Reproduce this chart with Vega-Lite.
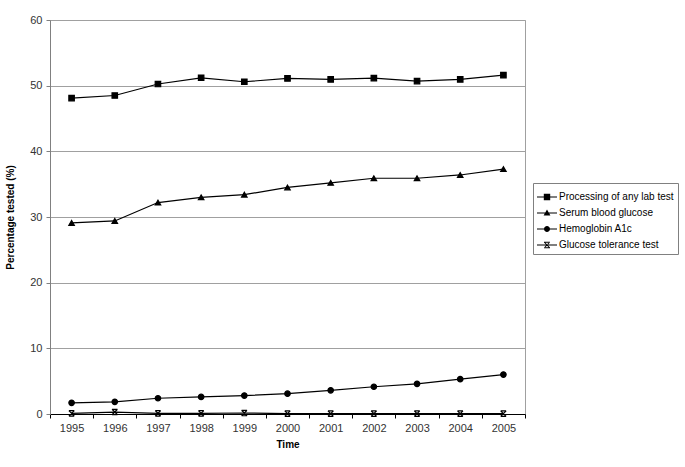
{
  "$schema": "https://vega.github.io/schema/vega-lite/v6.json",
  "autosize": {"type": "none"},
  "padding": {"left": 50, "top": 20, "right": 160, "bottom": 53},
  "width": 475,
  "height": 394,
  "background": "white",
  "config": {
    "font": "Liberation Sans",
    "view": {"stroke": "#a0a0a0", "strokeWidth": 1},
    "axis": {"labelFont": "Liberation Sans", "titleFont": "Liberation Sans", "labelColor": "#333333", "titleColor": "#000000", "labelFontSize": 11, "titleFontSize": 10, "titleFontWeight": "bold"}
  },
  "data": {"values": [
    {"year": "1995", "series": "Processing of any lab test", "value": 48.1},
    {"year": "1996", "series": "Processing of any lab test", "value": 48.5},
    {"year": "1997", "series": "Processing of any lab test", "value": 50.25},
    {"year": "1998", "series": "Processing of any lab test", "value": 51.2},
    {"year": "1999", "series": "Processing of any lab test", "value": 50.6},
    {"year": "2000", "series": "Processing of any lab test", "value": 51.1},
    {"year": "2001", "series": "Processing of any lab test", "value": 50.95},
    {"year": "2002", "series": "Processing of any lab test", "value": 51.15},
    {"year": "2003", "series": "Processing of any lab test", "value": 50.7},
    {"year": "2004", "series": "Processing of any lab test", "value": 50.95},
    {"year": "2005", "series": "Processing of any lab test", "value": 51.6},
    {"year": "1995", "series": "Serum blood glucose", "value": 29.1},
    {"year": "1996", "series": "Serum blood glucose", "value": 29.4},
    {"year": "1997", "series": "Serum blood glucose", "value": 32.2},
    {"year": "1998", "series": "Serum blood glucose", "value": 33.0},
    {"year": "1999", "series": "Serum blood glucose", "value": 33.4},
    {"year": "2000", "series": "Serum blood glucose", "value": 34.5},
    {"year": "2001", "series": "Serum blood glucose", "value": 35.2},
    {"year": "2002", "series": "Serum blood glucose", "value": 35.9},
    {"year": "2003", "series": "Serum blood glucose", "value": 35.9},
    {"year": "2004", "series": "Serum blood glucose", "value": 36.4},
    {"year": "2005", "series": "Serum blood glucose", "value": 37.3},
    {"year": "1995", "series": "Hemoglobin A1c", "value": 1.7},
    {"year": "1996", "series": "Hemoglobin A1c", "value": 1.85},
    {"year": "1997", "series": "Hemoglobin A1c", "value": 2.4},
    {"year": "1998", "series": "Hemoglobin A1c", "value": 2.6},
    {"year": "1999", "series": "Hemoglobin A1c", "value": 2.8},
    {"year": "2000", "series": "Hemoglobin A1c", "value": 3.1},
    {"year": "2001", "series": "Hemoglobin A1c", "value": 3.6},
    {"year": "2002", "series": "Hemoglobin A1c", "value": 4.15},
    {"year": "2003", "series": "Hemoglobin A1c", "value": 4.6},
    {"year": "2004", "series": "Hemoglobin A1c", "value": 5.3},
    {"year": "2005", "series": "Hemoglobin A1c", "value": 6.0},
    {"year": "1995", "series": "Glucose tolerance test", "value": 0.1},
    {"year": "1996", "series": "Glucose tolerance test", "value": 0.3},
    {"year": "1997", "series": "Glucose tolerance test", "value": 0.1},
    {"year": "1998", "series": "Glucose tolerance test", "value": 0.1},
    {"year": "1999", "series": "Glucose tolerance test", "value": 0.15},
    {"year": "2000", "series": "Glucose tolerance test", "value": 0.05},
    {"year": "2001", "series": "Glucose tolerance test", "value": 0.05},
    {"year": "2002", "series": "Glucose tolerance test", "value": 0.05},
    {"year": "2003", "series": "Glucose tolerance test", "value": 0.05},
    {"year": "2004", "series": "Glucose tolerance test", "value": 0.05},
    {"year": "2005", "series": "Glucose tolerance test", "value": 0.05}
  ]},
  "encoding": {
    "x": {"field": "year", "type": "ordinal", "bandPosition": 0.5,
      "scale": {"type": "band", "paddingInner": 0, "paddingOuter": 0},
      "axis": {"title": "Time", "labelAngle": 0, "tickBand": "extent", "grid": false, "domainColor": "#000000", "tickColor": "#000000", "tickSize": 4, "labelPadding": 4, "titlePadding": 6}},
    "y": {"field": "value", "type": "quantitative",
      "scale": {"domain": [0, 60], "nice": false},
      "axis": {"title": "Percentage tested (%)", "values": [0, 10, 20, 30, 40, 50, 60], "gridColor": "#a0a0a0", "gridOpacity": 1, "domainColor": "#808080", "tickColor": "#808080", "tickSize": 4, "labelPadding": 4, "titlePadding": 14}}
  },
  "resolve": {"scale": {"shape": "independent"}},
  "layer": [
    {
      "mark": {"type": "line", "color": "#000000", "strokeWidth": 1.2},
      "encoding": {"detail": {"field": "series", "type": "nominal"}}
    },
    {
      "mark": {"type": "point", "filled": true, "color": "#000000", "fill": "#000000", "stroke": "#000000", "strokeWidth": 1.2, "opacity": 1, "size": 30},
      "encoding": {
        "shape": {"field": "series", "type": "nominal", "legend": null,
          "scale": {"domain": ["Processing of any lab test", "Serum blood glucose", "Hemoglobin A1c", "Glucose tolerance test"],
            "range": ["square", "triangle-up", "circle", "M-1,-1L1,1M-1,1L1,-1M-1,-1L1,-1M-1,1L1,1"]}}
      }
    },
    {
      "transform": [{"filter": "false"}],
      "mark": {"type": "point", "filled": true, "color": "#000000", "opacity": 1},
      "encoding": {
        "shape": {"field": "series", "type": "nominal",
          "scale": {"domain": ["Processing of any lab test", "Serum blood glucose", "Hemoglobin A1c", "Glucose tolerance test"],
            "range": [
              "M-1,-0.06H1V0.06H-1ZM-0.32,-0.32H0.32V0.32H-0.32Z",
              "M-1,-0.06H1V0.06H-1ZM0,-0.36L0.34,0.26H-0.34Z",
              "M-1,-0.06H1V0.06H-1ZM0.3,0A0.3,0.3,0,1,1,-0.3,0A0.3,0.3,0,1,1,0.3,0Z",
              "M-1,-0.06H1V0.06H-1ZM-0.3,-0.32H0.3V-0.22H-0.3ZM-0.3,0.22H0.3V0.32H-0.3ZM-0.3,-0.26L-0.18,-0.26L0.3,0.26L0.18,0.26ZM0.3,-0.26L0.18,-0.26L-0.3,0.26L-0.18,0.26Z"
            ]},
          "legend": {"title": null, "orient": "none", "legendX": 483, "legendY": 163,
            "symbolSize": 400, "symbolFillColor": "#000000", "symbolStrokeWidth": 0, "symbolOpacity": 1,
            "labelFontSize": 10, "labelFont": "Liberation Sans", "labelColor": "#000000", "rowPadding": 1, "labelOffset": 2,
            "strokeColor": "#808080", "padding": 4, "fillColor": "white", "labelLimit": 300}}
      }
    }
  ]
}
